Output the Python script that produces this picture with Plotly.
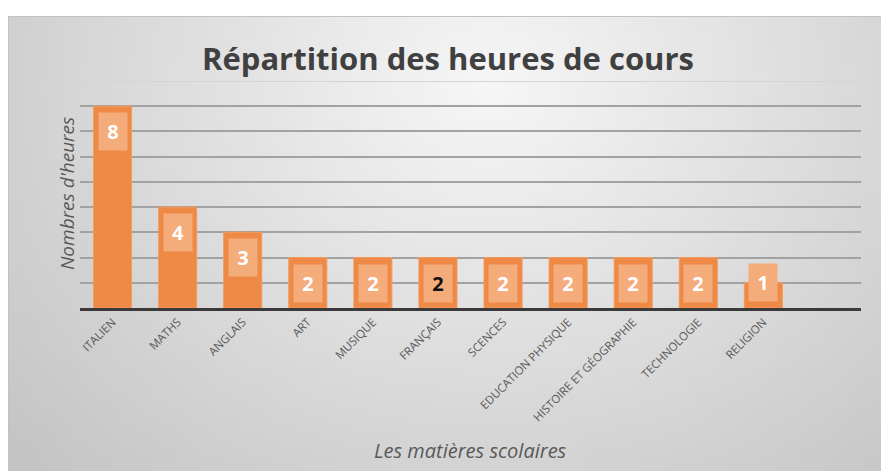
import base64
import struct
import zlib

import plotly.graph_objects as go

# ---------------- data ----------------
subjects = ["ITALIEN", "MATHS", "ANGLAIS", "ART", "MUSIQUE", "FRANÇAIS", "SCENCES",
            "EDUCATION PHYSIQUE", "HISTOIRE ET GÉOGRAPHIE", "TECHNOLOGIE", "RELIGION"]
hours = [8, 4, 3, 2, 2, 2, 2, 2, 2, 2, 1]
y_ticks = [0, 1, 2, 3, 4, 5, 6, 7, 8, 9]
title_text = "Répartition des heures de cours"
y_title = "Nombres d'heures"
x_title = "Les matières scolaires"

# ---------------- geometry / style ----------------
W, H = 881, 471
PL, PR, PT, PB = 80, 861, 81, 308          # plot area in pixels
FRAME_L, FRAME_T = 8, 16
pw, ph = PR - PL, PB - PT
n_slots = len(subjects) + 1                 # Excel left one empty slot at the end
ymax = y_ticks[-1]
px_per_unit = ph / ymax

BAR = "#EE8A46"
BOX = "#F3AC7A"
highlight = {"FRANÇAIS"}
FONT = "Open Sans"


def px_x(px):
    return (px - PL) / pw


def px_y(py):
    return (PB - py) / ph


def gradient_png(w, h):
    rows = []
    for j in range(h):
        row = bytearray([0])
        for i in range(w):
            x = (i + 0.5) / w
            y = (j + 0.5) / h
            d = (((x - 0.55) / 0.7) ** 2 + ((y - 0.15) / 1.15) ** 2) ** 0.5
            v = int(max(196, min(246, 247 - 48 * d)))
            row += bytes([v, v, v])
        rows.append(bytes(row))
    raw = b"".join(rows)

    def chunk(tag, data):
        c = struct.pack(">I", len(data)) + tag + data
        return c + struct.pack(">I", zlib.crc32(tag + data) & 0xffffffff)

    png = b"\x89PNG\r\n\x1a\n"
    png += chunk(b"IHDR", struct.pack(">IIBBBBB", w, h, 8, 2, 0, 0, 0))
    png += chunk(b"IDAT", zlib.compress(raw, 9))
    png += chunk(b"IEND", b"")
    return "data:image/png;base64," + base64.b64encode(png).decode()


fig = go.Figure()
fig.add_trace(go.Bar(
    x=subjects, y=hours, width=0.585,
    marker=dict(color=BAR, line=dict(color="#F29C5E", width=1)),
    hoverinfo="x+y", showlegend=False,
))

# data labels as boxed annotations (Excel "inside end" with fill)
box_w, box_h, gap = 28, 37, 6
for s, v in zip(subjects, hours):
    fits = v * px_per_unit >= box_h + gap + 4
    fig.add_annotation(
        x=s, y=v, xref="x", yref="y",
        text=f"<b>{v}</b>", showarrow=False,
        yanchor="top" if fits else "middle",
        yshift=-gap if fits else 0,
        width=box_w, height=box_h, bgcolor=BOX, borderpad=0,
        font=dict(family=FONT, size=20, color="#111111" if s in highlight else "white"),
    )

# titles
fig.add_annotation(x=px_x(448), y=px_y(58), xref="paper", yref="paper", showarrow=False,
                   text=f"<b>{title_text}</b>", xanchor="center", yanchor="middle",
                   font=dict(family=FONT, size=31, color="#404040"))
fig.add_annotation(x=px_x(67), y=px_y(194), xref="paper", yref="paper", showarrow=False,
                   text=f"<i>{y_title}</i>", textangle=-90, xanchor="center", yanchor="middle",
                   font=dict(family=FONT, size=19, color="#595959"))
fig.add_annotation(x=px_x(471), y=px_y(450), xref="paper", yref="paper", showarrow=False,
                   text=f"<i>{x_title}</i>", xanchor="center", yanchor="middle",
                   font=dict(family=FONT, size=20, color="#595959"))

# background gradient frame
fig.add_layout_image(dict(
    source=gradient_png(88, 46), xref="paper", yref="paper",
    x=px_x(FRAME_L), y=px_y(FRAME_T), sizex=(W - FRAME_L) / pw, sizey=(H - FRAME_T) / ph,
    xanchor="left", yanchor="top", sizing="stretch", layer="below",
))
# frame border (top / left)
fig.add_shape(type="line", xref="paper", yref="paper", layer="below",
              x0=px_x(FRAME_L), x1=px_x(W), y0=px_y(FRAME_T + 0.5), y1=px_y(FRAME_T + 0.5),
              line=dict(color="#C2C2C2", width=1))
fig.add_shape(type="line", xref="paper", yref="paper", layer="below",
              x0=px_x(FRAME_L + 0.5), x1=px_x(FRAME_L + 0.5), y0=px_y(FRAME_T), y1=px_y(H),
              line=dict(color="#C2C2C2", width=1))
# faint top gridline
fig.add_shape(type="line", xref="paper", yref="y", layer="below",
              x0=0, x1=1, y0=ymax, y1=ymax, line=dict(color="#D4D4D4", width=2))

fig.update_layout(
    width=W, height=H,
    margin=dict(l=PL, r=W - PR, t=PT, b=H - PB, autoexpand=False),
    paper_bgcolor="white", plot_bgcolor="rgba(0,0,0,0)",
    xaxis=dict(
        type="category", range=[-0.5, n_slots - 0.5],
        categoryorder="array", categoryarray=subjects,
        tickangle=-45, ticks="", showgrid=False, automargin=False,
        tickfont=dict(family=FONT, size=11.5, color="#595959"),
        showline=True, linecolor="#3A3A3A", linewidth=3, zeroline=False,
    ),
    yaxis=dict(
        range=[0, ymax], tickmode="array", tickvals=y_ticks[1:-1],
        showticklabels=False, ticks="", automargin=False,
        showgrid=True, gridcolor="#A2A2A2", gridwidth=2, zeroline=False,
    ),
)

fig.write_html("out.html", config={"displayModeBar": False},
               post_script="document.body.style.margin='0';document.body.style.overflow='hidden';")
